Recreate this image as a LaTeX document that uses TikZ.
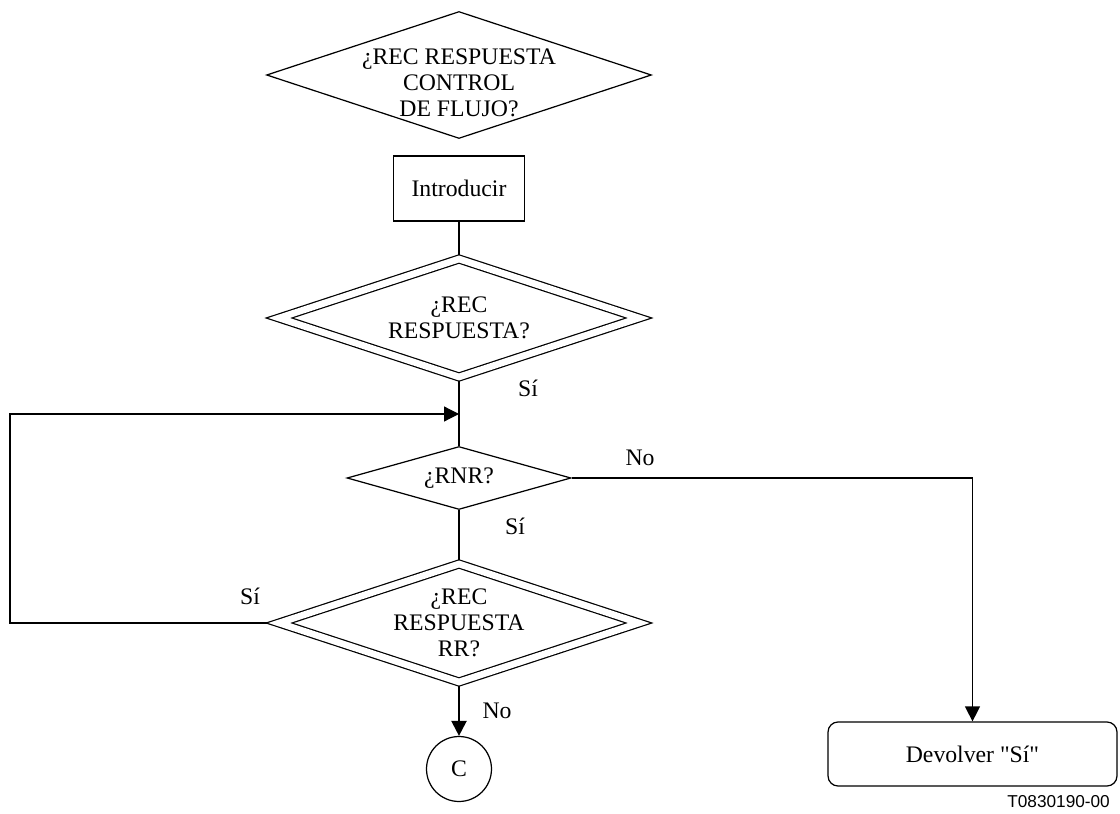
\documentclass[tikz,border=0pt]{standalone}
\usepackage{fontspec}
\setmainfont{Liberation Serif}[Ligatures=TeXOff]
\setsansfont{Liberation Sans}
\usetikzlibrary{shapes.geometric,arrows.meta,backgrounds,positioning}

\begin{document}
\begin{tikzpicture}
    [x=0.02cm, y=-0.02cm,
    every node/.style={font=\fontsize{13.5}{14.8}\selectfont},
    decision/.style={diamond, draw, fill=white, line width=0.7pt, inner sep=0pt},
    decision2/.style={decision, double, double distance=3.8pt},
    process/.style={rectangle, draw, fill=white, line width=0.7pt, minimum width=2.62cm, minimum height=1.3cm},
    terminal/.style={process, rounded corners=0.2cm, minimum width=5.78cm, minimum height=1.28cm},
    conn/.style={circle, draw, fill=white, line width=0.7pt, minimum size=1.3cm, inner sep=0pt},
    flow/.style={black, line width=1.3pt},
    flow1/.style={black, line width=0.7pt},
    arrowhd/.style={-{Triangle[length=0.3cm, width=0.3cm]}}]

    \node[decision, minimum width=7.7cm, minimum height=2.54cm,
        label={[align=center, yshift=-0.16cm]center:¿REC RESPUESTA\\CONTROL\\DE FLUJO?}] (ctl) at (459,75) {};
    \node[process] (intro) at (459,188.5) {Introducir};
    \node[decision2, minimum width=7.21cm, minimum height=2.37cm,
        label={[align=center]center:¿REC\\RESPUESTA?}] (resp) at (459,318) {};
    \node[decision, minimum width=4.48cm, minimum height=1.26cm,
        label={center:¿RNR?}] (rnr) at (459,478) {};
    \node[decision2, minimum width=7.21cm, minimum height=2.37cm,
        label={[align=center]center:¿REC\\RESPUESTA\\RR?}] (rr) at (459,623) {};
    \node[conn] (c) at (459,769) {C};
    \node[terminal] (dev) at (972.5,754) {Devolver "Sí"};

    \coordinate (join) at (459,414);
    \coordinate (lp) at (10,414);

    \begin{scope}[on background layer]
        \draw[flow] (intro.south) -- (resp.north);
        \draw[flow] (resp.south) -- (rnr.north);
        \draw[flow] (rnr.south) -- (rr.north);
        \draw[flow, arrowhd] (rr.south) -- (c.north);
        \draw[flow1, arrowhd] (rnr.east) -| (dev.north);
        \draw[flow1, arrowhd] (rr.west) -| (lp) -- (join);
    \end{scope}

    \foreach \n/\x/\y/\t in {si1/528/388/Sí, no1/640/458/No, si2/515/526/Sí, si3/250/596/Sí, no2/497/711/No}
        \node (\n) at (\x,\y) {\t};

    \node[anchor=east, font=\sffamily\fontsize{9.8}{11}\selectfont] (code) at (1116,802) {T0830190-00};

    \pgfresetboundingbox
    \useasboundingbox (0,0) rectangle (1120,814);
\end{tikzpicture}
\end{document}
